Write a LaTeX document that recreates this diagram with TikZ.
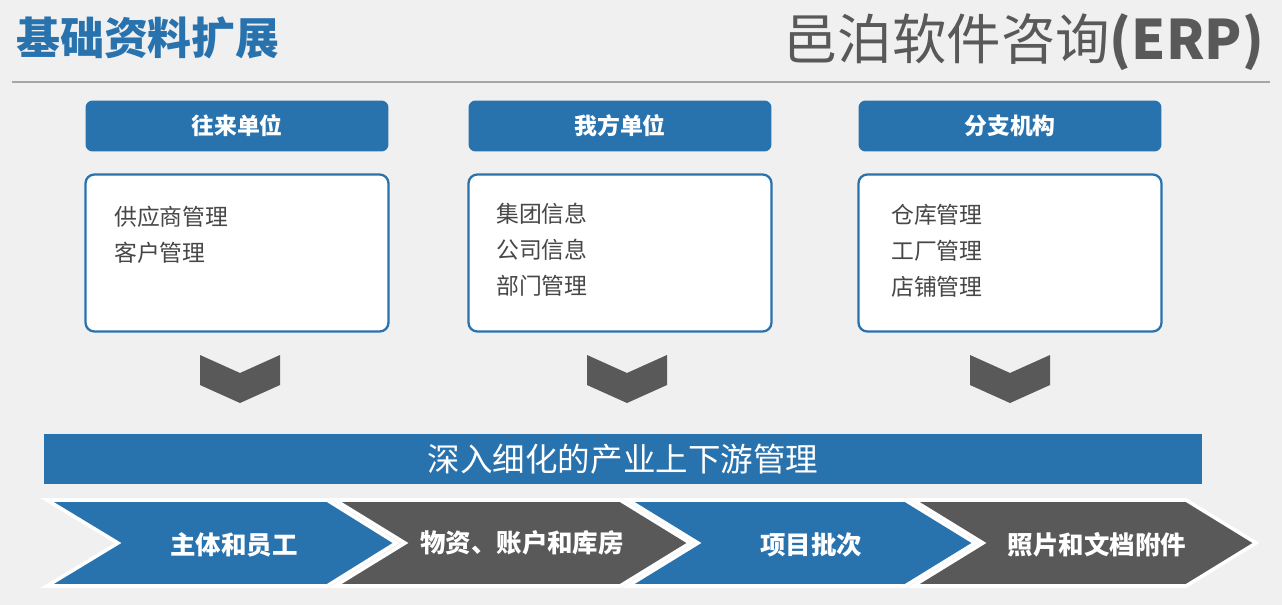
\documentclass[tikz,border=0pt]{standalone}
\usepackage{fontspec}
\setmainfont{Noto Sans CJK SC}
\definecolor{erpblue}{HTML}{2872AE}
\definecolor{erpgray}{HTML}{595959}
\definecolor{erpbg}{HTML}{F0F0F0}
\begin{document}
\begin{tikzpicture}[
  x=0.02cm, y=-0.02cm,
  headbox/.style={rectangle, rounded corners=4pt, fill=erpblue, minimum width=6.06cm, minimum height=1.02cm, font=\bfseries\fontsize{13}{15}\selectfont, text=white},
  listbox/.style={rectangle, rounded corners=5pt, draw=erpblue, line width=1.3pt, fill=white, minimum width=6.06cm, minimum height=3.14cm},
  listtext/.style={anchor=north west, align=left, font=\fontsize{13}{20.5}\selectfont, text=erpgray!80!black},
  downarrow/.style={fill=erpgray},
  stage/.style={draw=white, line width=2pt},
  stagetext/.style={font=\bfseries\fontsize{14.5}{16}\selectfont, text=white}
]
  \useasboundingbox[fill=erpbg] (0,0) rectangle (1282,605);

  % titles
  \node[anchor=west, text=erpblue, font=\bfseries\fontsize{25}{28}\selectfont] (title) at (10,38) {基础资料扩展};
  \node[anchor=east, text=erpgray, font=\fontsize{31}{35}\selectfont] (brand) at (1270,42) {邑泊软件咨询\textbf{(ERP)}};
  \draw[gray!70, line width=0.8pt] (12,82) -- (1270,82);

  % columns
  \node[headbox] (head1) at (237,126) {往来单位};
  \node[headbox] (head2) at (620,126) {我方单位};
  \node[headbox] (head3) at (1010,126) {分支机构};

  \node[listbox] (list1) at (237,253) {};
  \node[listbox] (list2) at (620,253) {};
  \node[listbox] (list3) at (1010,253) {};

  \node[listtext] (items1) at (108,200) {供应商管理\\客户管理};
  \node[listtext] (items2) at (490,197) {集团信息\\公司信息\\部门管理};
  \node[listtext] (items3) at (885,198) {仓库管理\\工厂管理\\店铺管理};

  % down chevrons
  \foreach \cx in {240,627,1010}
    \fill[downarrow] (\cx-40,355) -- (\cx,373) -- (\cx+40,355) -- (\cx+40,385) -- (\cx,403) -- (\cx-40,385) -- cycle;

  % banner
  \node[rectangle, fill=erpblue, minimum width=23.16cm, minimum height=1cm, text=white, font=\fontsize{18.5}{20}\selectfont] (banner) at (623,459) {深入细化的产业上下游管理};

  % process stages
  \filldraw[stage, fill=erpblue] (47,500) -- (327,500) -- (396,543) -- (327,586) -- (47,586) -- (118,543) -- cycle;
  \filldraw[stage, fill=erpgray] (335,500) -- (620,500) -- (690,543) -- (620,586) -- (335,586) -- (405,543) -- cycle;
  \filldraw[stage, fill=erpblue] (628,500) -- (905,500) -- (975,543) -- (905,586) -- (628,586) -- (698,543) -- cycle;
  \filldraw[stage, fill=erpgray] (913,500) -- (1186,500) -- (1256,543) -- (1186,586) -- (913,586) -- (983,543) -- cycle;

  \node[stagetext] (stage1) at (234,545) {主体和员工};
  \node[stagetext] (stage2) at (522,543) {物资、账户和库房};
  \node[stagetext] (stage3) at (811,545) {项目批次};
  \node[stagetext] (stage4) at (1097,545) {照片和文档附件};
\end{tikzpicture}
\end{document}
